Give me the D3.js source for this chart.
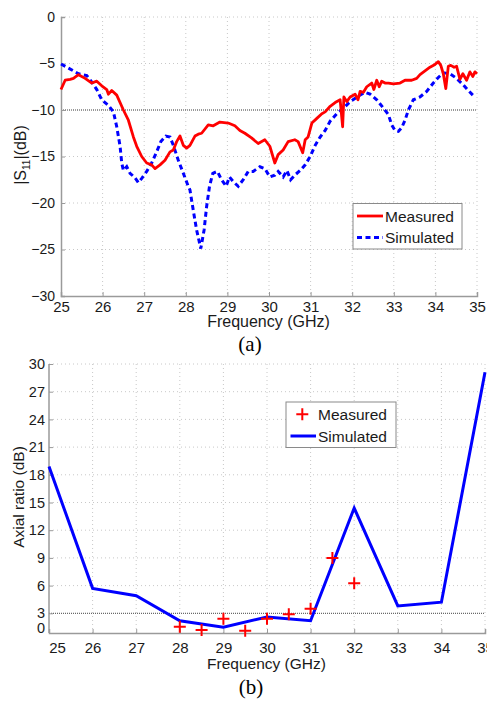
<!DOCTYPE html>
<html><head><meta charset="utf-8">
<script src="https://cdn.jsdelivr.net/npm/d3@7"></script>
<style>
html,body{margin:0;padding:0;background:#fff;}
svg{display:block;font-family:"Liberation Sans",Arial,sans-serif;}
</style></head>
<body>
<script>
// ---------- Data: (a) |S11| ----------
const measFreq = [25.00,25.10,25.22,25.30,25.42,25.58,25.74,25.86,25.98,26.10,26.14,26.22,26.34,26.50,26.62,26.74,26.82,26.94,27.06,27.18,27.26,27.38,27.50,27.62,27.70,27.78,27.86,27.94,28.02,28.10,28.22,28.30,28.38,28.54,28.66,28.82,29.02,29.18,29.30,29.42,29.58,29.74,29.90,30.02,30.14,30.22,30.34,30.46,30.62,30.70,30.81,30.87,30.94,31.03,31.15,31.27,31.35,31.47,31.59,31.71,31.77,31.80,31.87,31.95,32.07,32.14,32.19,32.27,32.35,32.47,32.52,32.59,32.65,32.71,32.79,32.87,32.99,33.15,33.27,33.43,33.55,33.63,33.75,33.87,33.99,34.07,34.13,34.19,34.25,34.31,34.37,34.45,34.51,34.59,34.66,34.75,34.83,34.90,34.95,35.00];
const measS11 = [-7.8,-6.8,-6.7,-6.6,-6.2,-6.6,-7.1,-6.9,-7.4,-7.8,-8.3,-7.9,-8.4,-10.0,-11.1,-12.9,-13.9,-15.0,-15.7,-15.9,-16.3,-15.9,-15.4,-14.5,-14.3,-13.4,-12.8,-13.8,-14.1,-13.8,-12.8,-12.6,-12.5,-11.6,-11.7,-11.3,-11.4,-11.7,-12.2,-12.5,-13.0,-13.6,-13.2,-13.9,-15.7,-14.8,-14.3,-13.4,-13.2,-13.4,-14.6,-13.2,-12.9,-11.4,-10.9,-10.4,-10.2,-9.6,-9.2,-8.9,-11.8,-8.6,-9.1,-8.6,-8.3,-8.9,-8.0,-8.1,-7.5,-7.1,-7.8,-6.8,-7.5,-6.9,-7.1,-7.1,-7.2,-7.1,-6.8,-6.8,-6.6,-6.2,-5.8,-5.4,-5.1,-4.8,-5.2,-6.1,-7.7,-5.3,-5.2,-5.4,-5.3,-6.7,-6.1,-6.8,-5.9,-6.4,-5.9,-6.1];
const simFreq = [25.00,25.18,25.42,25.62,25.74,25.86,25.98,26.14,26.26,26.34,26.42,26.46,26.50,26.58,26.66,26.78,26.86,26.95,27.06,27.18,27.30,27.40,27.52,27.62,27.70,27.82,27.94,28.05,28.10,28.18,28.26,28.36,28.44,28.50,28.57,28.65,28.76,28.86,28.97,29.05,29.14,29.26,29.38,29.50,29.62,29.78,29.90,30.02,30.14,30.22,30.34,30.43,30.52,30.62,30.75,30.87,30.99,31.11,31.23,31.35,31.47,31.63,31.79,31.95,32.15,32.31,32.43,32.59,32.75,32.87,32.95,33.03,33.11,33.19,33.27,33.35,33.47,33.63,33.79,33.95,34.07,34.19,34.35,34.51,34.67,34.79,34.92];
const simS11 = [-5.05,-5.5,-6.1,-6.3,-7.0,-7.8,-8.9,-9.5,-10.2,-11.8,-13.9,-15.7,-16.5,-16.1,-16.8,-17.3,-17.8,-17.3,-16.6,-15.7,-14.5,-13.4,-12.8,-12.9,-13.8,-15.4,-16.8,-18.1,-18.6,-20.8,-22.9,-24.9,-22.9,-20.4,-18.2,-16.8,-16.6,-17.5,-18.2,-17.2,-17.7,-18.2,-17.5,-16.6,-16.6,-16.1,-16.3,-17.2,-17.0,-16.6,-17.2,-16.5,-17.5,-17.0,-16.5,-15.9,-15.0,-13.8,-12.9,-12.2,-11.2,-10.4,-9.8,-9.1,-8.5,-8.1,-8.3,-8.9,-9.8,-10.5,-11.6,-12.2,-12.3,-11.9,-11.1,-10.0,-8.9,-8.6,-8.0,-7.1,-6.5,-6.0,-6.1,-6.6,-7.3,-7.9,-8.5];
const s11Ticks = [0,-5,-10,-15,-20,-25,-30];
const freqTicks = [25,26,27,28,29,30,31,32,33,34,35];
const s11Ref = -10;

// ---------- Data: (b) Axial ratio ----------
const arSimFreq = [25,26,27,28,29,30,31,32,33,34,35];
const arSim = [18.9,5.7,4.9,2.2,1.5,2.6,2.2,14.4,3.8,4.2,29.1];
const arMeasFreq = [28,28.5,29,29.5,30,30.5,31,31.5,32];
const arMeas = [1.55,1.2,2.4,1.1,2.4,2.9,3.5,9.0,6.25];
const arTicks = [3,6,9,12,15,18,21,24,27,30];
const arRef = 3;

const W = 487, H = 701;
const svg = d3.select("body").append("svg").attr("width", W).attr("height", H);

const gridColor = "#c8c8c8", axisColor = "#9a9a9a", textColor = "#1a1a1a";

// ================= (a) =================
{
  const x = d3.scaleLinear().domain([25,35]).range([61,477]);
  const y = d3.scaleLinear().domain([-30,0]).range([296,17]);
  const g = svg.append("g");
  const gg = g.append("g");
  gg.selectAll("l1").data(freqTicks.slice(1)).join("line")
    .attr("x1", d=>x(d)).attr("x2", d=>x(d)).attr("y1", y(0)).attr("y2", y(-30))
    .attr("stroke", gridColor).attr("stroke-dasharray","1,3");
  gg.selectAll("l2").data(s11Ticks.slice(0,-1)).join("line")
    .attr("x1", x(25)).attr("x2", x(35)).attr("y1", d=>y(d)).attr("y2", d=>y(d))
    .attr("stroke", gridColor).attr("stroke-dasharray","1,3");
  g.append("line").attr("x1", x(25)).attr("x2", x(35)).attr("y1", y(s11Ref)).attr("y2", y(s11Ref))
    .attr("stroke", "#444").attr("stroke-width", 1).attr("stroke-dasharray", "1,1");

  const xa = d3.axisBottom(x).tickValues(freqTicks).tickSize(-4).tickPadding(5).tickFormat(d3.format("d"));
  const ya = d3.axisLeft(y).tickValues(s11Ticks).tickSize(-4).tickPadding(6).tickFormat(d=> d<0 ? "\u2212"+(-d) : d);
  const gx = g.append("g").attr("transform", `translate(0,${y(-30)})`).call(xa);
  const gy = g.append("g").attr("transform", `translate(${x(25)},0)`).call(ya);
  [gx, gy].forEach(a=>{
    a.select(".domain").attr("stroke", axisColor).attr("stroke-width", 1.5);
    a.selectAll(".tick line").attr("stroke", axisColor);
    a.selectAll(".tick text").attr("fill", textColor).attr("font-family","Liberation Sans, Arial, sans-serif");
  });
  gx.selectAll(".tick text").attr("font-size", 15);
  gy.selectAll(".tick text").attr("font-size", 14);

  const line = d3.line().x(d=>x(d[0])).y(d=>y(d[1]));
  g.append("path").datum(simFreq.map((f,i)=>[f, simS11[i]]))
    .attr("d", line).attr("fill","none").attr("stroke","#0000ff").attr("stroke-width",3)
    .attr("stroke-dasharray","5,3.5");
  g.append("path").datum(measFreq.map((f,i)=>[f, measS11[i]]))
    .attr("d", line).attr("fill","none").attr("stroke","#ff0000").attr("stroke-width",2.8)
    .attr("stroke-linejoin","round");

  g.append("text").attr("x", 268.5).attr("y", 327).attr("text-anchor","middle")
    .attr("font-size", 16).attr("fill", textColor).text("Frequency (GHz)");
  const yl = g.append("text").attr("transform","translate(26,155) rotate(-90)").attr("text-anchor","middle")
    .attr("font-size", 16).attr("fill", textColor);
  yl.append("tspan").text("|S");
  yl.append("tspan").attr("font-size", 10).attr("dy", 4).text("11");
  yl.append("tspan").attr("dy", -4).text("|(dB)");

  const lg = g.append("g");
  lg.append("rect").attr("x",353).attr("y",203.5).attr("width",109).attr("height",45.5)
    .attr("fill","#fff").attr("stroke","#8a8a8a").attr("stroke-width",1);
  lg.append("line").attr("x1",357).attr("x2",383).attr("y1",216).attr("y2",216)
    .attr("stroke","#ff0000").attr("stroke-width",2.8);
  lg.append("line").attr("x1",357).attr("x2",383).attr("y1",237.5).attr("y2",237.5)
    .attr("stroke","#0000ff").attr("stroke-width",3).attr("stroke-dasharray","5,3.5");
  lg.append("text").attr("x",385).attr("y",221.5).attr("font-size",15.5).attr("fill",textColor).text("Measured");
  lg.append("text").attr("x",385).attr("y",243).attr("font-size",15.5).attr("fill",textColor).text("Simulated");

  svg.append("text").attr("x",250).attr("y",351).attr("text-anchor","middle")
    .attr("font-family","Liberation Serif, Times New Roman, serif").attr("font-size",21)
    .attr("fill","#000").text("(a)");
}

// ================= (b) =================
{
  const x = d3.scaleLinear().domain([25,35]).range([49,485]);
  const y = d3.scaleLinear().domain([0,30]).range([641,364]);
  const yBottom = 633;
  const g = svg.append("g");
  g.selectAll("l1").data(freqTicks.slice(1)).join("line")
    .attr("x1", d=>x(d)).attr("x2", d=>x(d)).attr("y1", y(30)).attr("y2", yBottom)
    .attr("stroke", gridColor).attr("stroke-dasharray","1,3");
  g.selectAll("l2").data(arTicks.filter(d=>d!==arRef)).join("line")
    .attr("x1", x(25)).attr("x2", x(35)).attr("y1", d=>y(d)).attr("y2", d=>y(d))
    .attr("stroke", gridColor).attr("stroke-dasharray","1,3");
  g.append("line").attr("x1", x(25)).attr("x2", x(35)).attr("y1", y(arRef)).attr("y2", y(arRef))
    .attr("stroke", "#444").attr("stroke-width", 1).attr("stroke-dasharray", "1,1");

  const xa = d3.axisBottom(x).tickValues(freqTicks).tickSize(-4).tickPadding(9).tickFormat(d3.format("d"));
  const ya = d3.axisLeft(y).tickValues(arTicks).tickSize(-4).tickPadding(4).tickFormat(d3.format("d"));
  const gx = g.append("g").attr("transform", `translate(0,${yBottom})`).call(xa);
  const gy = g.append("g").attr("transform", `translate(${x(25)},0)`).call(ya);
  gy.select(".domain").attr("d", `M-0,${y(30)}V${yBottom}`);
  [gx, gy].forEach(a=>{
    a.select(".domain").attr("stroke", axisColor).attr("stroke-width", 1.5);
    a.selectAll(".tick line").attr("stroke", axisColor);
    a.selectAll(".tick text").attr("fill", textColor).attr("font-family","Liberation Sans, Arial, sans-serif").attr("font-size", 15);
  });
  gy.selectAll(".tick text").attr("font-size", 14.5);
  gx.selectAll(".tick text").filter(d=>d===25).attr("dx", 8);
  g.append("text").attr("x", x(25)-4).attr("y", 633).attr("text-anchor","end")
    .attr("font-size", 14.5).attr("fill", textColor).text("0");

  const line = d3.line().x(d=>x(d[0])).y(d=>y(d[1]));
  g.append("path").datum(arSimFreq.map((f,i)=>[f, arSim[i]]))
    .attr("d", line).attr("fill","none").attr("stroke","#0000ff").attr("stroke-width",3)
    .attr("stroke-linejoin","miter");
  g.selectAll(".pm").data(arMeasFreq.map((f,i)=>[f, arMeas[i]])).join("path")
    .attr("transform", d=>`translate(${x(d[0])},${y(d[1])})`)
    .attr("d", "M-6,0H6M0,-6V6").attr("stroke","#ff0000").attr("stroke-width",2).attr("fill","none");

  g.append("text").attr("x", 266.5).attr("y", 669).attr("text-anchor","middle")
    .attr("font-size", 15.5).attr("fill", textColor).text("Frequency (GHz)");
  g.append("text").attr("transform","translate(24,497) rotate(-90)").attr("text-anchor","middle")
    .attr("font-size", 15.5).attr("fill", textColor).text("Axial ratio (dB)");

  const lg = g.append("g");
  lg.append("rect").attr("x",286).attr("y",402).attr("width",110).attr("height",45.5)
    .attr("fill","#fff").attr("stroke","#8a8a8a").attr("stroke-width",1);
  lg.append("path").attr("d","M296.3,414.3H308.3M302.3,408.3V420.3").attr("stroke","#ff0000").attr("stroke-width",2);
  lg.append("line").attr("x1",290.5).attr("x2",316).attr("y1",436).attr("y2",436)
    .attr("stroke","#0000ff").attr("stroke-width",3);
  lg.append("text").attr("x",318).attr("y",419.8).attr("font-size",15.5).attr("fill",textColor).text("Measured");
  lg.append("text").attr("x",318).attr("y",441.5).attr("font-size",15.5).attr("fill",textColor).text("Simulated");

  svg.append("text").attr("x",251).attr("y",694).attr("text-anchor","middle")
    .attr("font-family","Liberation Serif, Times New Roman, serif").attr("font-size",21)
    .attr("fill","#000").text("(b)");
}
</script>
</body></html>
